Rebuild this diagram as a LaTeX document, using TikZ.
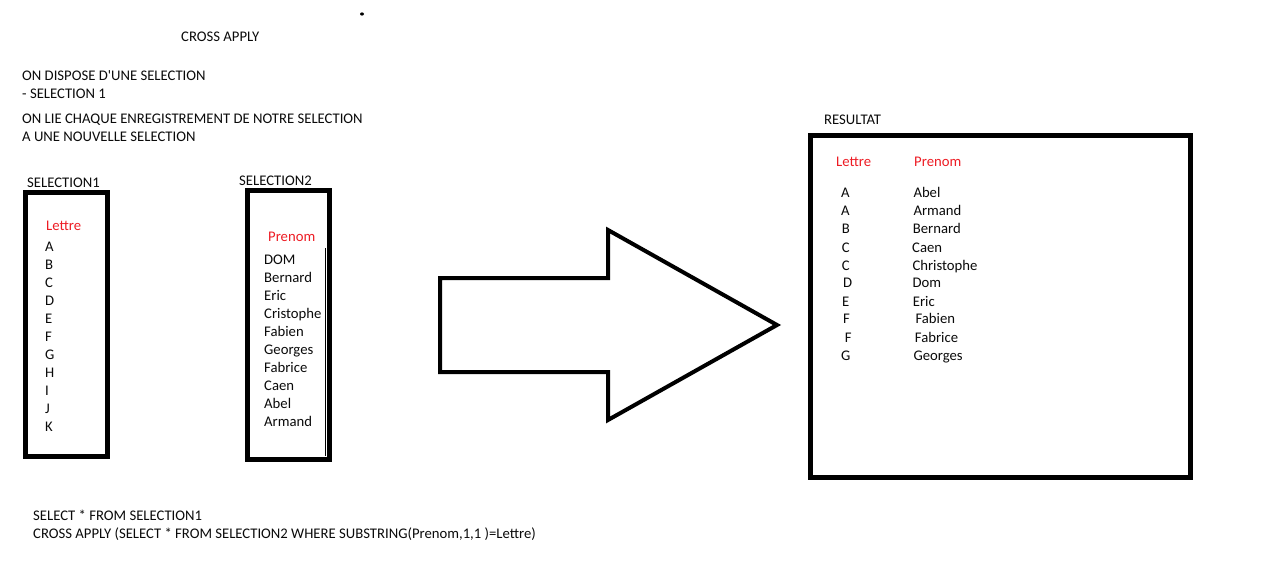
\documentclass[tikz,border=0pt]{standalone}
\usepackage{fontspec}
\setmainfont{Carlito}[Ligatures=TeXOff]
\definecolor{hdred}{RGB}{237,28,36}
\definecolor{txtc}{RGB}{10,10,10}
\begin{document}
\begin{tikzpicture}[x=1pt,y=-1pt,
  txt/.style={anchor=base west,inner sep=0pt,text=txtc,font=\fontsize{14.7}{17}\selectfont,yshift=-1pt},
  hdr/.style={txt,text=hdred},
  frame/.style={draw=black,line width=5pt},
  bigarrow/.style={draw=black,line width=4pt,line join=miter}]
\useasboundingbox (0,0) rectangle (1274,586);
\fill[black] (362,14) ellipse (2pt and 1.6pt);
% titles
\node[txt] (title) at (181,40.5) {CROSS APPLY};
\node[txt] (l1) at (22,79.5) {ON DISPOSE D'UNE SELECTION};
\node[txt] (l2) at (22,97.5) {- SELECTION 1};
\node[txt] (l3) at (22,122.5) {ON LIE CHAQUE ENREGISTREMENT DE NOTRE SELECTION};
\node[txt] (l4) at (22,140.5) {A UNE NOUVELLE SELECTION};
% selection 1
\node[txt] (s1) at (27,186.5) {SELECTION1};
\draw[frame] (25.5,192.5) rectangle (107.5,456.5);
\node[hdr] (s1h) at (46,229.5) {Lettre};
\foreach \t [count=\i from 0] in {A,B,C,D,E,F,G,H,I,J,K}
  \node[txt] (s1r\i) at (45,250.5+18*\i) {\t};
% selection 2
\node[txt] (s2) at (239,184.5) {SELECTION2};
\draw[frame] (247.5,190.5) rectangle (329.5,459.5);
\draw[line width=1pt] (325,248) -- (325,456);
\node[hdr] (s2h) at (268,240.5) {Prenom};
\foreach \t [count=\i from 0] in {DOM,Bernard,Eric,Cristophe,Fabien,Georges,Fabrice,Caen,Abel,Armand}
  \node[txt] (s2r\i) at (264,263.5+18*\i) {\t};
% arrow
\draw[bigarrow] (440,278) -- (608,278) -- (608,230) -- (777,325) -- (608,420) -- (608,372) -- (440,372) -- cycle;
% result
\node[txt] (res) at (824,123.5) {RESULTAT};
\draw[frame] (810.5,135.5) rectangle (1190.5,477.5);
\node[hdr] (rh1) at (836,165.5) {Lettre};
\node[hdr] (rh2) at (914,165.5) {Prenom};
\foreach \l/\lx/\n/\nx/\y [count=\i] in {
  A/841/Abel/913.3/196.5, A/841/Armand/913.3/214.5, B/841.7/Bernard/912.7/232.5,
  C/841.7/Caen/912/251, C/841.7/Christophe/912.3/269, D/843/Dom/912.3/286.5,
  E/842/Eric/912.7/305, F/843/Fabien/915.3/322, F/844.7/Fabrice/914.7/341,
  G/841/Georges/913.3/359}{
  \node[txt] (rl\i) at (\lx,\y) {\l};
  \node[txt] (rn\i) at (\nx,\y) {\n};
}
% sql
\node[txt] (q1) at (33,519) {SELECT * FROM SELECTION1};
\node[txt] (q2) at (33,537.5) {CROSS APPLY (SELECT * FROM SELECTION2 WHERE SUBSTRING(Prenom,1,1 )=Lettre)};
\end{tikzpicture}
\end{document}
